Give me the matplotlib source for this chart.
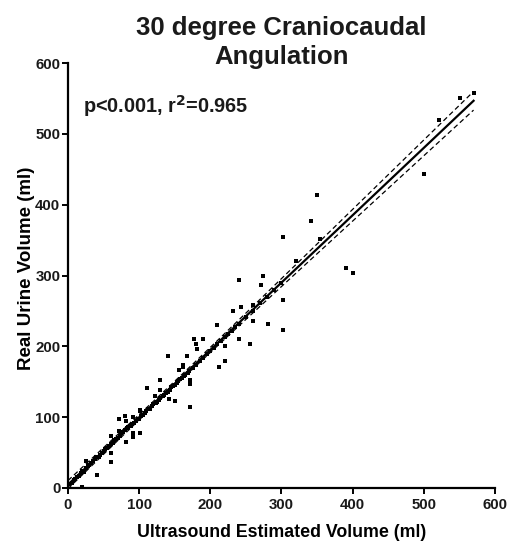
import numpy as np
import matplotlib.pyplot as plt

# ---- datos ----
# puntos alejados de la recta
x_out = [570, 551, 521, 500, 350, 341, 354, 391, 401, 302, 302, 320, 274, 241,
         271, 281, 302, 243, 232, 260, 260, 210, 241, 256, 221, 220, 212, 177,
         190, 180, 182, 167, 162, 141, 161, 156, 130, 171, 171, 111, 130, 122,
         142, 150, 171, 101, 71, 80, 81, 91, 101, 61, 71, 91, 91, 101, 81, 61,
         61, 25, 41, 20]
y_out = [558, 550, 520, 443, 413, 377, 352, 310, 304, 355, 266, 320, 299, 294,
         286, 231, 223, 255, 250, 258, 236, 230, 210, 204, 200, 180, 171, 210,
         211, 203, 196, 187, 171, 186, 173, 167, 153, 153, 147, 141, 138, 130,
         125, 123, 115, 110, 97, 101, 95, 100, 109, 73, 80, 77, 72, 77, 65, 49,
         36, 38, 18, 1]

# puntos pegados a la recta
x_lin = [2, 5, 8, 10, 12, 15, 18, 20, 22, 25, 28, 30, 33, 35, 38, 40, 43, 45,
         48, 50, 52, 55, 58, 60, 63, 65, 68, 70, 73, 75, 78, 80, 83, 85, 88, 90,
         93, 95, 98, 100, 103, 105, 108, 110, 113, 115, 118, 120, 123, 125, 128,
         130, 133, 135, 138, 140, 143, 145, 148, 150, 153, 155, 158, 160, 163,
         165, 168, 170, 175, 180, 185, 190, 195, 200, 205, 210, 215, 220, 225,
         230, 235, 240, 250, 260, 270, 280, 290, 300]
y_lin = [5, 7, 11, 12, 16, 17, 21, 24, 23, 28, 31, 33, 35, 38, 41, 44, 44, 47,
         50, 52, 55, 57, 59, 62, 64, 68, 69, 71, 74, 78, 79, 82, 84, 86, 88, 90,
         92, 95, 97, 98, 102, 103, 106, 108, 111, 112, 116, 118, 120, 122, 124,
         127, 130, 131, 134, 136, 139, 142, 144, 146, 148, 151, 154, 155, 158,
         160, 163, 165, 170, 174, 180, 183, 189, 193, 198, 203, 207, 213, 218,
         222, 228, 232, 242, 250, 261, 270, 280, 290]

x = np.array(x_out + x_lin, dtype=float)
y = np.array(y_out + y_lin, dtype=float)

# ---- regresion lineal y banda de confianza 95% ----
b, a = np.polyfit(x, y, 1)
n = len(x)
res = y - (a + b * x)
s = np.sqrt(np.sum(res**2) / (n - 2))
sxx = np.sum((x - x.mean())**2)
xf = np.linspace(0, x.max(), 200)
yf = a + b * xf
se = s * np.sqrt(1 / n + (xf - x.mean())**2 / sxx)
t95 = 1.976

plt.rcParams['font.family'] = ['Liberation Sans', 'DejaVu Sans']
plt.rcParams['font.weight'] = 'bold'
plt.rcParams['text.color'] = '#1a1a1a'

fig = plt.figure(figsize=(5.15, 5.48), dpi=100)
ax = fig.add_axes([0.132, 0.1095, 0.829, 0.7755])

ax.plot(x, y, 's', color='black', ms=2.2, mew=0)
ax.plot(xf, yf, color='black', lw=1.6)
ax.plot(xf, yf + t95 * se, color='black', lw=0.9, ls=(0, (4, 2.5)))
ax.plot(xf, yf - t95 * se, color='black', lw=0.9, ls=(0, (4, 2.5)))

ax.set_xlim(0, 600)
ax.set_ylim(0, 600)
ax.set_xticks(range(0, 601, 100))
ax.set_yticks(range(0, 601, 100))
ax.spines['top'].set_visible(False)
ax.spines['right'].set_visible(False)
ax.spines['left'].set_linewidth(1.6)
ax.spines['bottom'].set_linewidth(1.6)
ax.tick_params(direction='out', length=4.5, width=1.4, labelsize=10.8, pad=1,
               labelcolor='#1a1a1a')
ax.tick_params(axis='x', pad=3)
for lab in ax.get_xticklabels() + ax.get_yticklabels():
    lab.set_fontweight('bold')

ax.set_xlabel("Ultrasound Estimated Volume (ml)", fontsize=12.8, fontweight='bold', labelpad=8)
ax.set_ylabel("Real Urine Volume (ml)", fontsize=13.5, fontweight='bold')
ax.yaxis.set_label_coords(-0.078, 0.518)
ax.set_title("30 degree Craniocaudal\nAngulation", fontsize=18.5, fontweight='bold',
             linespacing=1.25, y=1.0, pad=-0.5)
ax.text(0.035, 0.899, "p<0.001, r$^\\mathbf{2}$=0.965", transform=ax.transAxes,
        fontsize=14.3, fontweight='bold', va='center')

fig.savefig("out.png", dpi=100)
